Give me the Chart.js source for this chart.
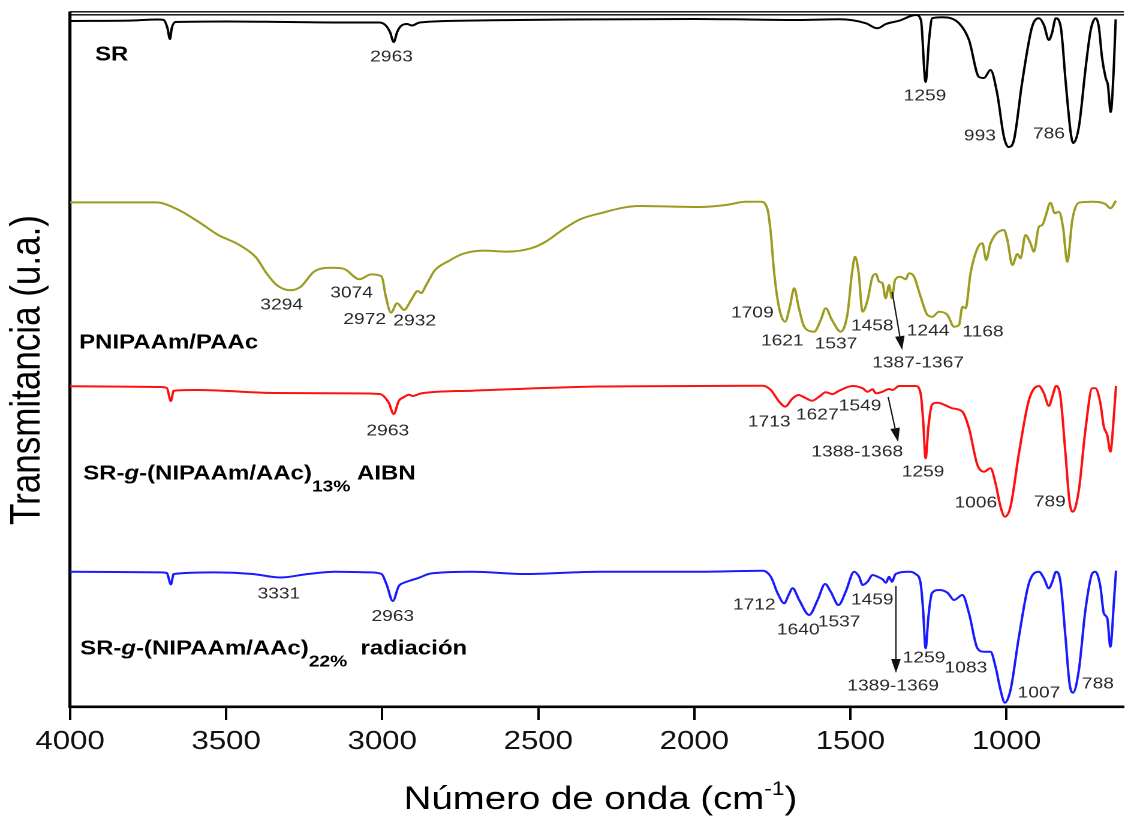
<!DOCTYPE html>
<html>
<head>
<meta charset="utf-8">
<script src="https://cdn.jsdelivr.net/npm/chart.js@4.4.1/dist/chart.umd.min.js"></script>
<style>
  html,body{margin:0;padding:0;background:#fff;overflow:hidden;}
  /* the reference figure is stretched horizontally, so the whole canvas is too */
  #wrap{position:absolute;left:0;top:0;width:938px;height:816px;transform:scaleX(1.19936);transform-origin:0 0;}
</style>
</head>
<body>
<div id="wrap"><canvas id="chart"></canvas></div>
<script>
// --- data (wavenumber cm-1, transmittance u.a. with vertical offsets) ---
const tickValues = [4000, 3500, 3000, 2500, 2000, 1500, 1000];

const srWn = [4000,3800,3720,3700,3688,3680,3674,3662,3500,3300,3100,3010,2990,2975,2963,2952,2940,2920,2905,2880,2700,2400,2000,1878,1664,1536,1450,1414,1386,1344,1290,1274,1259,1248,1238,1206,1152,1120,1088,1072,1051,1030,1008,993,976,950,918,896,880,864,854,842,826,810,794,786,768,746,730,714,704,694,682,675,666,656,650];
const srT  = [68.6,68.65,68.75,68.7,67.9,66.8,67.9,68.5,68.55,68.5,68.45,68.45,68.2,67.5,66.5,67.5,68.1,68.3,68.15,68.45,68.65,68.75,68.8,68.77,68.7,68.77,68.37,67.87,68.3,68.63,69.2,68.7,62.5,66.7,68.87,68.97,68.37,66.7,63.0,62.9,63.7,61.4,57.0,56.0,56.7,62.4,68.0,68.87,68.2,66.7,67.4,68.87,68.0,62.4,57.4,56.4,58,64,67.7,68.87,68.0,65.0,62.9,62.2,59.5,64.0,68.77];

const pnWn = [4000,3724,3658,3591,3525,3459,3404,3371,3338,3294,3261,3217,3162,3123,3073,3035,3002,2988,2972,2952,2930,2908,2886,2875,2859,2831,2787,2743,2677,2599,2522,2478,2423,2368,2307,2176,1984,1899,1835,1787,1765,1755,1744,1728,1709,1694,1680,1666,1648,1616,1595,1579,1559,1531,1509,1495,1485,1474,1461,1445,1429,1418,1408,1397,1387,1376,1367,1357,1339,1323,1312,1296,1275,1253,1237,1216,1189,1168,1152,1141,1131,1115,1093,1077,1065,1051,1008,997,981,965,955,939,923,912,896,885,875,859,845,832,819,805,789,768,725,683,667,649];
const pnT  = [50.46,50.46,49.8,48.57,47.2,46.23,44.95,43.4,42.2,41.68,42.03,43.57,43.92,43.82,42.78,43.26,43.06,41.0,39.44,40.37,39.7,40.65,41.6,41.4,42.2,43.68,44.6,45.3,45.64,45.54,45.88,46.5,47.7,48.74,49.33,50.1,50.0,50.2,50.53,50.53,49.7,47.37,43.37,39.87,38.53,40.03,41.87,40.03,38.03,37.53,38.7,39.87,38.7,37.53,39.37,43.37,45.03,43.53,39.53,40.7,43.03,43.3,42.53,42.37,40.87,42.2,40.87,42.7,43.03,42.77,43.37,43.03,41.03,39.2,39.03,39.53,39.2,38.03,38.2,40.03,39.87,43.37,45.87,46.37,44.7,46.37,47.7,46.7,44.2,45.3,44.87,47.2,46.37,45.53,48.03,48.2,49.03,50.43,49.37,49.53,48.03,44.53,48.7,50.43,50.53,50.3,49.87,50.63];

const aibnWn = [4000,3712,3690,3677,3668,3591,3349,3095,3008,2979,2963,2947,2930,2914,2902,2875,2710,2304,1984,1781,1755,1728,1709,1685,1666,1648,1623,1600,1579,1557,1536,1493,1461,1445,1429,1418,1397,1376,1365,1344,1291,1275,1267,1259,1250,1239,1221,1173,1141,1120,1093,1072,1051,1035,1019,1005,987,960,928,896,880,864,853,841,827,811,798,787,768,747,725,715,699,688,677,667,656,649];
const aibnT  = [32.08,32.0,31.9,30.6,31.63,31.7,31.4,31.36,31.3,30.43,29.3,30.6,31.0,31.22,31.1,31.36,31.63,32.05,32.1,32.13,31.7,30.53,30.03,30.87,31.2,30.97,30.63,31.03,31.47,31.3,31.63,32.1,31.87,31.53,31.77,31.37,31.53,31.8,31.7,32.1,32.1,31.37,28.7,24.87,28.03,30.2,30.43,29.87,29.53,27.87,24.2,23.53,23.87,22.37,20.03,19.03,20.03,25.37,30.7,32.1,31.37,30.1,31.03,32.1,31.03,25.37,20.53,19.53,21.7,27.7,31.87,31.87,30.37,28.03,27.2,25.53,29.03,32.1];

const radWn = [4000,3712,3690,3677,3668,3536,3415,3327,3238,3150,3040,3002,2986,2966,2947,2930,2908,2886,2842,2710,2544,2304,1984,1781,1755,1733,1712,1698,1685,1664,1632,1605,1581,1563,1538,1515,1488,1472,1461,1445,1429,1413,1397,1386,1376,1367,1355,1312,1291,1275,1267,1259,1250,1239,1216,1189,1168,1141,1120,1093,1072,1051,1035,1019,1005,987,960,928,896,880,864,853,841,827,811,798,787,768,747,725,715,699,688,677,667,656,649];
const radT  = [13.53,13.46,13.4,12.26,13.3,13.46,13.3,12.95,13.3,13.53,13.46,13.3,12.26,10.6,12.08,12.43,12.67,12.88,13.36,13.53,13.3,13.53,13.53,13.63,13.03,11.37,10.37,11.2,11.87,10.7,9.2,10.7,12.3,11.53,10.2,11.53,13.53,13.03,12.2,12.53,13.2,13.03,12.77,12.43,13.03,12.53,13.3,13.53,13.3,12.37,9.7,5.87,9.03,11.37,11.7,11.43,10.7,11.2,9.37,5.87,5.53,5.53,4.03,1.7,0.43,1.7,7.03,12.37,13.53,12.87,11.87,12.53,13.53,12.53,7.03,2.37,1.43,3.7,9.7,13.37,13.53,12.03,9.37,8.87,6.03,10.37,13.63];

// peak labels: text, anchor wavenumber, anchor u.a.
const peakLabels = [
  ['2963',2970,65.0],['1259',1261,61.1],['993',1085,57.1],['786',864,57.3],
  ['3294',3322,40.2],['3074',3098,41.4],['2972',3056,38.75],['2932',2896,38.6],
  ['1709',1814,39.4],['1621',1718,36.6],['1537',1546,36.3],['1458',1430,38.1],
  ['1244',1251,37.6],['1168',1075,37.5],['1387-1367',1283,34.4],
  ['2963',2982,27.6],['1713',1760,28.5],['1627',1606,29.2],['1549',1469,30.1],
  ['1388-1368',1478,25.5],['1259',1267,23.5],['1006',1098,20.4],['789',861,20.5],
  ['3331',3331,11.3],['2963',2966,9.05],['1712',1808,10.2],['1640',1667,7.7],
  ['1537',1536,8.5],['1459',1430,10.7],['1389-1369',1363,2.1],['1259',1264,4.9],
  ['1083',1130,3.9],['1007',896,1.4],['788',707,2.3]
];
// arrows: from [wn,u.a.] to [wn,u.a.]
const arrows = [
  [[1366,41.5],[1334,35.7]],
  [[1379,31.0],[1347,26.5]],
  [[1354,12.1],[1354,3.4]]
];

function pts(wn, t){ return wn.map((w,i)=>({x:w, y:t[i]})); }

// --- annotation plugin (labels, arrows, titles, top frame) ---
function drawRich(ctx, segs, x0, y0){
  let x = x0;
  segs.forEach(s=>{
    ctx.font = s.font;
    ctx.fillText(s.t, x, y0 + (s.dy||0));
    x += ctx.measureText(s.t).width;
  });
  return x - x0;
}

const annotPlugin = {
  id:'annot',
  afterDraw(chart){
    const {ctx, chartArea, scales:{x, y}} = chart;
    const F = 'Liberation Sans, Arial, sans-serif';
    ctx.save();
    // top frame (double line)
    ctx.strokeStyle = '#000'; ctx.lineWidth = 1.3;
    [11.8, 14.8].forEach(yy=>{
      ctx.beginPath(); ctx.moveTo(chartArea.left, yy); ctx.lineTo(chartArea.right, yy); ctx.stroke();
    });

    // peak labels
    ctx.fillStyle = '#2a2a2a'; ctx.textAlign = 'center'; ctx.textBaseline = 'middle';
    ctx.font = '16px ' + F;
    peakLabels.forEach(p=>{
      ctx.fillText(p[0], x.getPixelForValue(p[1]), y.getPixelForValue(p[2]));
    });

    // arrows
    ctx.strokeStyle = '#111'; ctx.fillStyle = '#111'; ctx.lineWidth = 1.1;
    arrows.forEach(a=>{
      const x1 = x.getPixelForValue(a[0][0]), y1 = y.getPixelForValue(a[0][1]);
      const x2 = x.getPixelForValue(a[1][0]), y2 = y.getPixelForValue(a[1][1]);
      const ang = Math.atan2(y2-y1, x2-x1), L = 14, W = 4;
      const bx = x2 - L*Math.cos(ang), by = y2 - L*Math.sin(ang);
      ctx.beginPath(); ctx.moveTo(x1,y1); ctx.lineTo(bx,by); ctx.stroke();
      ctx.beginPath();
      ctx.moveTo(x2,y2);
      ctx.lineTo(bx + W*Math.sin(ang), by - W*Math.cos(ang));
      ctx.lineTo(bx - W*Math.sin(ang), by + W*Math.cos(ang));
      ctx.closePath(); ctx.fill();
    });

    // series names
    ctx.fillStyle = '#000'; ctx.textAlign = 'left'; ctx.textBaseline = 'middle';
    const B = 'bold 20px ' + F, BI = 'italic bold 20px ' + F, S = 'bold 16px ' + F;
    drawRich(ctx, [{t:'SR', font:B}], x.getPixelForValue(3920), y.getPixelForValue(65.2));
    drawRich(ctx, [{t:'PNIPAAm/PAAc', font:B}], x.getPixelForValue(3971), y.getPixelForValue(36.4));
    drawRich(ctx, [{t:'SR-', font:B},{t:'g', font:BI},{t:'-(NIPAAm/AAc)', font:B},{t:'13%', font:S, dy:13},{t:' AIBN', font:B}],
      x.getPixelForValue(3958), y.getPixelForValue(23.3));
    drawRich(ctx, [{t:'SR-', font:B},{t:'g', font:BI},{t:'-(NIPAAm/AAc)', font:B},{t:'22%', font:S, dy:13},{t:'  radiación', font:B}],
      x.getPixelForValue(3968), y.getPixelForValue(5.8));

    // x axis title with superscript
    ctx.fillStyle = '#000'; ctx.textBaseline = 'alphabetic';
    const xt = [{t:'Número de onda (cm', font:'32px '+F},{t:'-1', font:'19px '+F, dy:-14},{t:')', font:'32px '+F}];
    let w = 0; xt.forEach(s=>{ ctx.font = s.font; w += ctx.measureText(s.t).width; });
    drawRich(ctx, xt, (chartArea.left + chartArea.right)/2 - w/2 + 3, 809);

    // y axis title
    ctx.translate(23.5, 370); ctx.rotate(-Math.PI/2);
    ctx.textAlign = 'center'; ctx.textBaseline = 'middle';
    ctx.font = '35px ' + F;
    ctx.fillText('Transmitancia (u.a.)', 0, 0);
    ctx.restore();
  }
};

const common = {borderWidth:2, pointRadius:0, cubicInterpolationMode:'monotone', fill:false};

new Chart(document.getElementById('chart'), {
  type:'line',
  data:{datasets:[
    {label:'SR', data:pts(srWn, srT), borderColor:'#000000', ...common},
    {label:'PNIPAAm/PAAc', data:pts(pnWn, pnT), borderColor:'#9c9c22', ...common},
    {label:'SR-g-(NIPAAm/AAc) 13% AIBN', data:pts(aibnWn, aibnT), borderColor:'#ff1010', ...common},
    {label:'SR-g-(NIPAAm/AAc) 22% radiación', data:pts(radWn, radT), borderColor:'#1a1aff', ...common}
  ]},
  options:{
    responsive:true, maintainAspectRatio:false, animation:false, devicePixelRatio:2,
    layout:{padding:{top:13, left:0, right:0, bottom:0}},
    plugins:{legend:{display:false}, tooltip:{enabled:false}},
    scales:{
      x:{
        type:'linear', reverse:true, min:624, max:4000,
        afterBuildTicks:s=>{ s.ticks = tickValues.map(v=>({value:v})); },
        afterFit:s=>{ s.height = 109; },
        grid:{drawOnChartArea:false, drawTicks:true, tickLength:13, tickWidth:2, tickColor:'#000'},
        border:{display:true, color:'#000', width:2.6},
        ticks:{autoSkip:false, maxRotation:0, padding:6, color:'#111',
               callback:v=>String(v),
               font:{family:'Liberation Sans, Arial, sans-serif', size:26}}
      },
      y:{
        type:'linear', min:0, max:69.4,
        afterFit:s=>{ s.width = 58.4; },
        grid:{display:true, drawOnChartArea:false, drawTicks:false},
        border:{display:true, color:'#000', width:2.6},
        ticks:{display:false}
      }
    }
  },
  plugins:[annotPlugin]
});
</script>
</body>
</html>
